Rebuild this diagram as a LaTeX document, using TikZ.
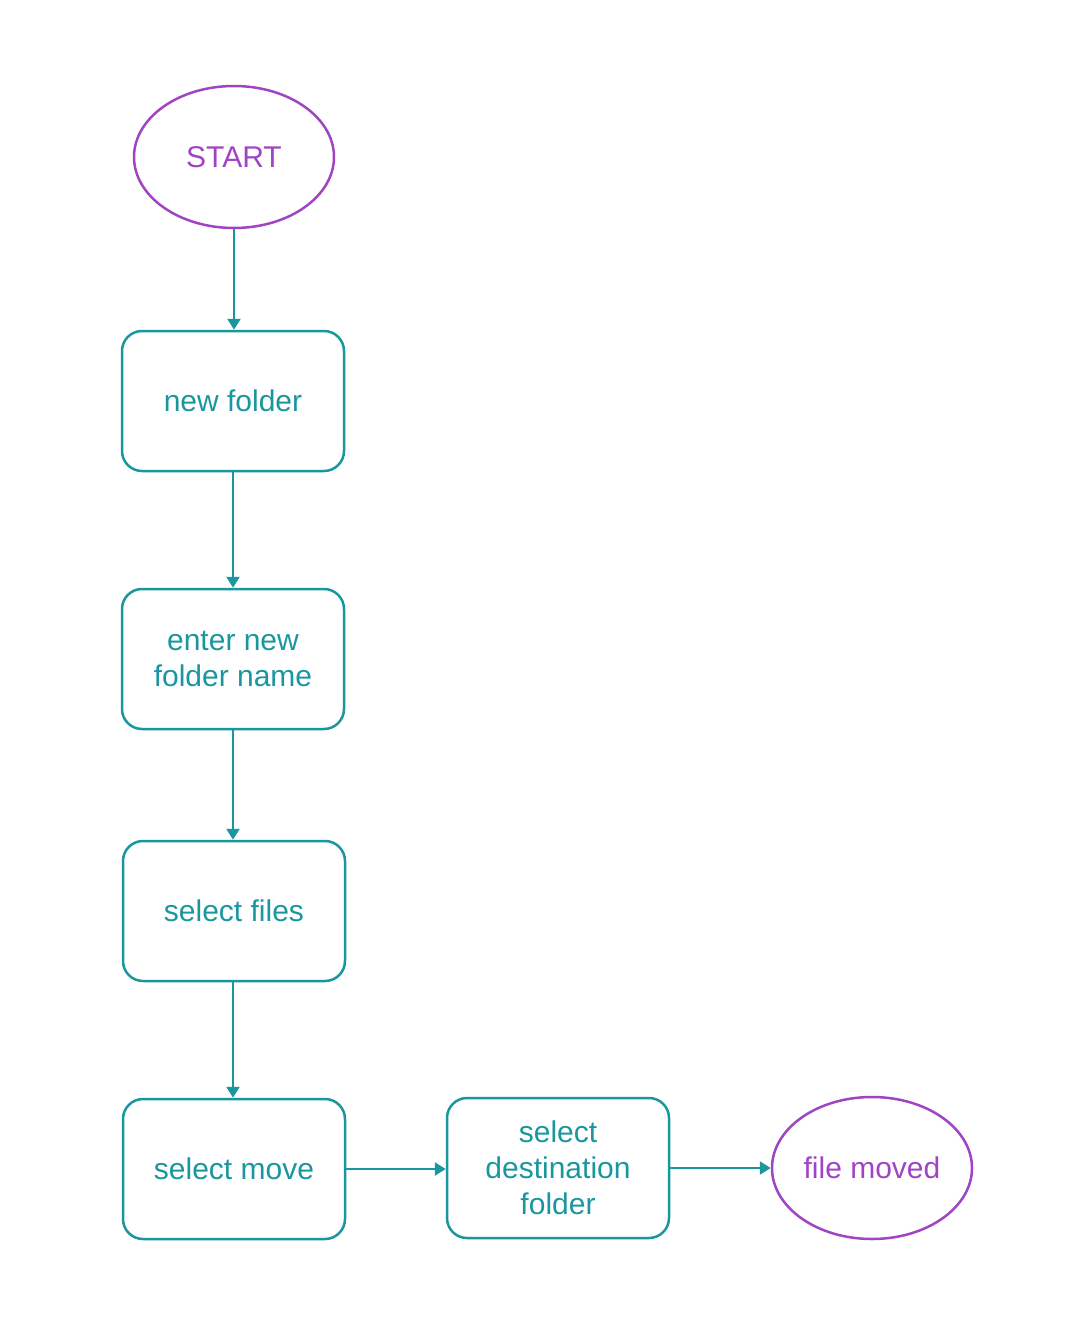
\documentclass[tikz,border=0pt]{standalone}
\usepackage{fontspec}
\setmainfont{Liberation Sans}
\usetikzlibrary{shapes.geometric,arrows.meta}
\definecolor{tealc}{HTML}{1A979E}
\definecolor{purc}{HTML}{A044C4}
\begin{document}
\begin{tikzpicture}[x=1pt,y=-1pt,
  every node/.style={font=\fontsize{30}{36}\selectfont, align=center, inner sep=0pt},
  term/.style={ellipse, draw=purc, text=purc, line width=2.5pt, minimum width=200pt, minimum height=142pt},
  proc/.style={rectangle, rounded corners=20pt, draw=tealc, text=tealc, line width=2.5pt, minimum width=222pt, minimum height=140pt},
  conn/.style={draw=tealc, line width=2.5pt, -{Triangle[length=11pt,width=13pt]}}]
\useasboundingbox (0,0) rectangle (1090,1343);
\node[term] (start) at (234,157) {\raisebox{-3pt}{START}};
\node[proc] (newf) at (233,401) {\raisebox{-2pt}{new folder}};
\node[proc] (enter) at (233,659) {enter new\\folder name};
\node[proc] (files) at (234,911) {\raisebox{-2pt}{select files}};
\node[proc] (move) at (234,1169) {\raisebox{-2pt}{select move}};
\node[proc] (dest) at (558,1168) {select\\destination\\folder};
\node[term] (moved) at (872,1168) {\raisebox{-2pt}{file moved}};
\draw[conn] (start.south) -- (start.south |- newf.north);
\draw[conn] (newf.south) -- (newf.south |- enter.north);
\draw[conn] (enter.south) -- (enter.south |- files.north);
\draw[conn] (enter.south |- files.south) -- (enter.south |- move.north);
\draw[conn] (move.east) -- (dest.west |- move.east);
\draw[conn] (dest.east) -- (moved.west |- dest.east);
\end{tikzpicture}
\end{document}
